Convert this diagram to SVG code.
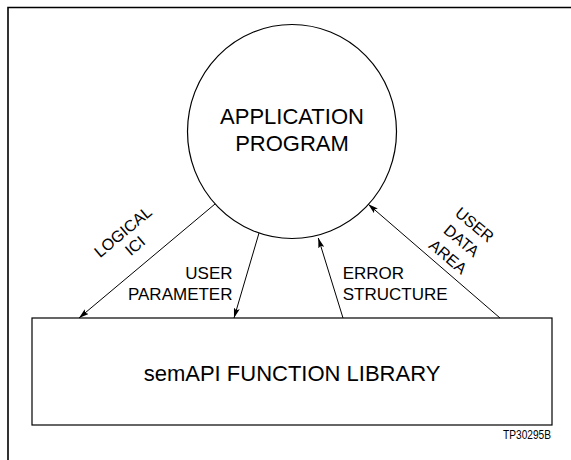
<svg xmlns="http://www.w3.org/2000/svg" width="571" height="460" viewBox="0 0 571 460">
<style>
text { font-family: "Liberation Sans", Arial, sans-serif; fill: #000; }
.big { font-size: 22px; text-anchor: middle; }
.lbl { font-size: 17px; }
.rot { font-size: 16px; text-anchor: middle; }
.shape { fill: #fff; stroke: #000; stroke-width: 1.2; }
.conn { stroke: #000; stroke-width: 1; fill: none; marker-end: url(#arr); }
</style>
<defs>
<marker id="arr" viewBox="0 0 10 6" refX="10" refY="3" markerWidth="10" markerHeight="6" markerUnits="userSpaceOnUse" orient="auto">
<path d="M0,0 L10,3 L0,6 L2,3 Z" fill="#000"/>
</marker>
</defs>
<rect width="571" height="460" fill="#fff"/>
<g id="frame">
<path d="M8,460 L8,7.5 L571,7.5" fill="none" stroke="#000" stroke-width="1.6"/>
</g>
<g id="app">
<ellipse class="shape" cx="292" cy="131.5" rx="104.5" ry="107"/>
<text class="big" x="292" y="123.5">APPLICATION</text>
<text class="big" x="292" y="150.5">PROGRAM</text>
</g>
<g id="lib">
<rect class="shape" x="32" y="318" width="520" height="107"/>
<text class="big" x="292" y="381">semAPI FUNCTION LIBRARY</text>
</g>
<g id="connectors">
<line class="conn" x1="215" y1="204" x2="79" y2="318"/>
<line class="conn" x1="259" y1="233" x2="234" y2="318"/>
<line class="conn" x1="343" y1="318" x2="318.3" y2="238"/>
<line class="conn" x1="500" y1="318" x2="368.3" y2="204.3"/>
</g>
<g id="labels">
<text class="rot" transform="translate(126.5,236) rotate(-40)">LOGICAL</text>
<text class="rot" transform="translate(138.5,250) rotate(-40)">ICI</text>
<text class="lbl" x="232.5" y="279.3" text-anchor="end">USER</text>
<text class="lbl" x="232.5" y="300" text-anchor="end">PARAMETER</text>
<text class="lbl" x="342.7" y="279.3">ERROR</text>
<text class="lbl" x="342.7" y="300">STRUCTURE</text>
<text class="rot" transform="translate(471,229) rotate(40)">USER</text>
<text class="rot" transform="translate(458,245) rotate(40)">DATA</text>
<text class="rot" transform="translate(444.5,261) rotate(40)">AREA</text>
<text x="551" y="438.5" font-size="13" text-anchor="end" textLength="48" lengthAdjust="spacingAndGlyphs">TP30295B</text>
</g>
</svg>
